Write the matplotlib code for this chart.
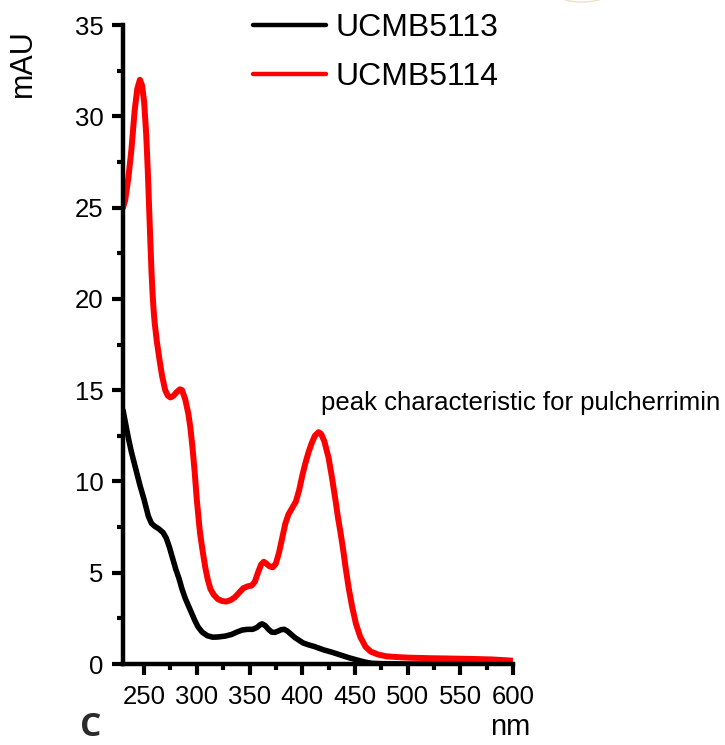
import matplotlib
matplotlib.use("Agg")
import matplotlib.pyplot as plt
from matplotlib.ticker import MultipleLocator
from matplotlib.patches import Ellipse

plt.rcParams['font.family'] = ['Liberation Sans', 'DejaVu Sans']

# ---- data ----
wl_5114 = [230, 232, 235, 238, 241, 243.5, 246, 248, 250, 252, 253.5, 255, 256, 257, 258, 259, 260, 262,
           264.5, 267, 270, 272.5, 275, 278, 281, 284, 286, 289, 292, 294, 296, 298, 300,
           303, 305.5, 308, 310.5, 313, 316, 320, 324, 328, 332, 336, 340, 344, 348, 352,
           355, 358, 361, 363.5, 366, 369, 372, 375, 378, 381, 384, 387, 391, 394, 397,
           400, 403, 406, 409, 412, 415.5, 418, 421, 425, 428, 431.5, 434, 436.5, 439,
           441, 444, 447.5, 451, 455, 460, 465, 472, 480, 490, 500, 520, 540, 560, 580, 600]
abs_5114 = [25.0, 25.4, 26.6, 28.2, 30.3, 31.5, 32.0, 31.7, 30.8, 29.0, 27.0, 24.6, 23.0, 21.5, 20.3, 19.4, 18.7, 17.7,
            16.7, 15.8, 15.0, 14.7, 14.6, 14.7, 14.9, 15.05, 15.0, 14.5, 13.7, 12.9, 11.8, 10.5, 9.0,
            7.2, 6.2, 5.3, 4.6, 4.1, 3.8, 3.55, 3.45, 3.42, 3.5, 3.65, 3.9, 4.15, 4.25, 4.3,
            4.5, 5.0, 5.45, 5.6, 5.5, 5.35, 5.3, 5.5, 6.1, 6.9, 7.7, 8.2, 8.6, 8.9, 9.5,
            10.3, 11.0, 11.6, 12.1, 12.5, 12.7, 12.6, 12.2, 11.3, 10.3, 9.0, 8.0, 7.15, 6.2,
            5.35, 4.2, 3.1, 2.2, 1.5, 0.95, 0.68, 0.52, 0.42, 0.38, 0.35, 0.32, 0.30, 0.28, 0.25, 0.18]

wl_5113 = [230, 232, 235, 238, 242, 246, 250, 254, 257, 260, 264, 268, 271, 274, 277, 280,
           283, 286, 289, 292, 295, 298, 301, 305, 310, 315, 320, 327, 333, 338, 343, 348,
           353, 357, 360, 362, 365, 368, 371, 374, 377, 380, 383, 386, 389, 393, 397, 401,
           406, 412, 420, 428, 436, 444, 452, 460, 466, 475, 500, 550, 600]
abs_5113 = [13.9, 13.3, 12.4, 11.6, 10.7, 9.8, 9.0, 8.1, 7.7, 7.55, 7.4, 7.2, 6.9, 6.4, 5.8, 5.2,
            4.7, 4.1, 3.6, 3.2, 2.8, 2.4, 2.05, 1.75, 1.55, 1.47, 1.48, 1.53, 1.62, 1.75, 1.86, 1.9,
            1.9, 2.0, 2.15, 2.2, 2.1, 1.9, 1.75, 1.73, 1.8, 1.88, 1.9, 1.8, 1.65, 1.45, 1.3, 1.15,
            1.05, 0.95, 0.78, 0.65, 0.5, 0.35, 0.22, 0.1, 0.04, 0.02, 0.0, 0.0, 0.0]

labels = ['UCMB5113', 'UCMB5114']
colors = ['#000000', '#ff0000']
x_ticks = [250, 300, 350, 400, 450, 500, 550, 600]
y_ticks = [0, 5, 10, 15, 20, 25, 30, 35]
annotation = 'peak characteristic for pulcherrimin'

# ---- figure ----
fig = plt.figure(figsize=(7.25, 7.45), dpi=100)
ax = fig.add_axes([0.1697, 0.1087, 0.5379, 0.8577])

l1, = ax.plot(wl_5113, abs_5113, color=colors[0], lw=4.0, solid_joinstyle='round',
              solid_capstyle='round', label=labels[0])
l2, = ax.plot(wl_5114, abs_5114, color=colors[1], lw=4.3, solid_joinstyle='round',
              solid_capstyle='round', label=labels[1])

ax.set_xlim(230, 600)
ax.set_ylim(0, 35)
ax.set_xticks(x_ticks)
ax.set_yticks(y_ticks)
ax.xaxis.set_minor_locator(MultipleLocator(25))
ax.yaxis.set_minor_locator(MultipleLocator(2.5))

for s in ['top', 'right']:
    ax.spines[s].set_visible(False)
for s in ['left', 'bottom']:
    ax.spines[s].set_linewidth(3.2)

ax.tick_params(which='major', direction='out', length=8, width=3.0, labelsize=18.5)
ax.tick_params(which='minor', direction='out', length=4, width=3.0)
ax.tick_params(axis='x', which='major', pad=7)
ax.tick_params(axis='y', which='major', pad=6)

ax.set_ylabel('mAU', fontsize=22)
ax.yaxis.set_label_coords(-0.256, 0.94)
ax.yaxis.label.set_va('center')

ax.set_xlabel('nm', fontsize=21)
ax.xaxis.set_label_coords(1.045, -0.111)
ax.xaxis.label.set_ha('right')
ax.xaxis.label.set_va('baseline')

ax.text(418, 13.9, annotation, fontsize=18.5, ha='left', va='baseline', clip_on=False)

leg = ax.legend(handles=[l1, l2], loc='upper left', bbox_to_anchor=(0.333, 1.019),
                frameon=False, fontsize=23, handlelength=2.3, handletextpad=0.3,
                labelspacing=0.59, borderpad=0, borderaxespad=0)
for h in leg.get_lines():
    h.set_linewidth(3.2)
leg.set_clip_on(False)

fig.text(80 / 725, 1 / 745, 'C', fontsize=24, fontweight='bold',
         family=['Open Sans', 'DejaVu Sans'], color='#2b2b2b', ha='left', va='bottom')

fig.add_artist(Ellipse((582 / 725, 758 / 745), 66 / 725, 30 / 745, fill=False,
                       edgecolor='#e6d3b0', lw=1.0, alpha=0.7, transform=fig.transFigure))

fig.savefig('out.png', dpi=100)
